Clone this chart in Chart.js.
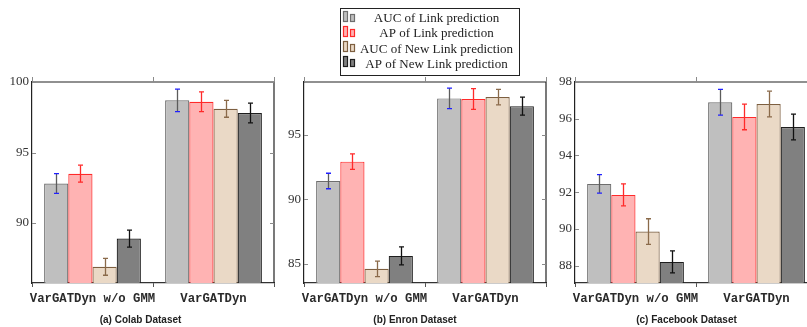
<!DOCTYPE html>
<html>
<head>
<meta charset="utf-8">
<script src="https://cdn.jsdelivr.net/npm/chart.js@4/dist/chart.umd.min.js"></script>
<style>
  html, body { margin: 0; padding: 0; background: #fff; overflow: hidden; width: 807px; height: 327px; }
  canvas { position: absolute; top: 0; }
  #chart-a { left: 0px; }
  #chart-b { left: 272px; }
  #chart-c { left: 543px; }
</style>
</head>
<body>
<canvas id="chart-a" width="277" height="327"></canvas>
<canvas id="chart-b" width="277" height="327"></canvas>
<canvas id="chart-c" width="277" height="327"></canvas>
<script>
const categories = ["VarGATDyn w/o GMM", "VarGATDyn"];
const seriesNames = [
  "AUC of Link prediction",
  "AP of Link prediction",
  "AUC of New Link prediction",
  "AP of New Link prediction"
];

// (a) Colab
const colabAucLink = [92.8, 98.7];
const colabAucLinkErr = [0.7, 0.8];
const colabApLink = [93.5, 98.6];
const colabApLinkErr = [0.6, 0.7];
const colabAucNew = [86.9, 98.1];
const colabAucNewErr = [0.6, 0.6];
const colabApNew = [88.9, 97.8];
const colabApNewErr = [0.6, 0.7];
const colabTicks = [90, 95, 100];

// (b) Enron
const enronAucLink = [91.4, 97.8];
const enronAucLinkErr = [0.6, 0.8];
const enronApLink = [92.9, 97.75];
const enronApLinkErr = [0.6, 0.8];
const enronAucNew = [84.6, 97.9];
const enronAucNewErr = [0.6, 0.6];
const enronApNew = [85.6, 97.2];
const enronApNewErr = [0.7, 0.7];
const enronTicks = [85, 90, 95];

// (c) Facebook
const fbAucLink = [92.45, 96.9];
const fbAucLinkErr = [0.5, 0.7];
const fbApLink = [91.85, 96.1];
const fbApLinkErr = [0.6, 0.7];
const fbAucNew = [89.85, 96.8];
const fbAucNewErr = [0.7, 0.7];
const fbApNew = [88.2, 95.55];
const fbApNewErr = [0.6, 0.7];
const fbTicks = [88, 90, 92, 94, 96, 98];

const styles = [
  { fill: "#bfbfbf", border: "#6e6e6e", stem: "#5c5c5c", cap: "#2020ff" },
  { fill: "#ffb3b3", border: "#ff2a2a", stem: "#ff2a2a", cap: "#ff2a2a" },
  { fill: "#ead9c6", border: "#7d5f40", stem: "#8a6a4a", cap: "#8a6a4a" },
  { fill: "#808080", border: "#1e1e1e", stem: "#111111", cap: "#111111" }
];

const errorBars = {
  id: "errorBars",
  afterDatasetsDraw(chart) {
    const ctx = chart.ctx;
    const y = chart.scales.y;
    chart.data.datasets.forEach((ds, i) => {
      const st = styles[i];
      chart.getDatasetMeta(i).data.forEach((bar, j) => {
        const top = y.getPixelForValue(ds.data[j] + ds.errors[j]);
        const bot = y.getPixelForValue(ds.data[j] - ds.errors[j]);
        const x = Math.round(bar.x) + 0.5;
        ctx.save();
        ctx.lineWidth = 1.3;
        ctx.strokeStyle = st.stem;
        ctx.beginPath();
        ctx.moveTo(x, top);
        ctx.lineTo(x, bot);
        ctx.stroke();
        ctx.strokeStyle = st.cap;
        ctx.beginPath();
        ctx.moveTo(x - 2.5, top); ctx.lineTo(x + 2.5, top);
        ctx.moveTo(x - 2.5, bot); ctx.lineTo(x + 2.5, bot);
        ctx.stroke();
        ctx.restore();
      });
    });
  }
};

const frame = {
  id: "frame",
  afterDraw(chart) {
    const { ctx, chartArea: a, scales: { x, y } } = chart;
    ctx.save();
    ctx.strokeStyle = "#222";
    ctx.lineWidth = 1.2;
    ctx.beginPath();
    ctx.moveTo(a.left, a.top);
    ctx.lineTo(a.right, a.top);
    ctx.lineTo(a.right, a.bottom);
    ctx.stroke();

    ctx.strokeStyle = "#8a8a8a";
    ctx.lineWidth = 1;
    y.ticks.forEach(t => {
      const py = Math.round(y.getPixelForValue(t.value)) + 0.5;
      ctx.beginPath();
      ctx.moveTo(a.left, py); ctx.lineTo(a.left + 4, py);
      ctx.moveTo(a.right, py); ctx.lineTo(a.right - 4, py);
      ctx.stroke();
    });
    for (let i = 0; i <= categories.length; i++) {
      const px = Math.round(x.getPixelForValue(i - 0.5)) + 0.5;
      ctx.beginPath();
      ctx.moveTo(px, a.top);
      ctx.lineTo(px, a.top - 5);
      ctx.stroke();
    }
    ctx.restore();
  }
};

const legendBox = {
  id: "legendBox",
  afterDraw(chart) {
    const ctx = chart.ctx;
    ctx.save();
    ctx.fillStyle = "#fff";
    ctx.fillRect(68.5, 8.5, 179, 67);
    ctx.strokeStyle = "#222";
    ctx.lineWidth = 1;
    ctx.strokeRect(68.5, 8.5, 179, 67);
    ctx.font = "13px 'Liberation Serif'";
    ctx.textAlign = "center";
    ctx.textBaseline = "middle";
    chart.data.datasets.forEach((ds, i) => {
      const cy = 18.5 + i * 15.3;
      const base = Math.round(cy + 2) + 0.5;
      const st = styles[i];
      ctx.fillStyle = st.fill;
      ctx.strokeStyle = st.border;
      ctx.lineWidth = 1.2;
      ctx.fillRect(71.5, base - 10, 4, 10);
      ctx.strokeRect(71.5, base - 10, 4, 10);
      ctx.fillRect(78.5, base - 7, 4, 7);
      ctx.strokeRect(78.5, base - 7, 4, 7);
      ctx.fillStyle = "#222";
      ctx.fillText(ds.label, 164.5, cy);
    });
    ctx.restore();
  }
};

function makePanel(id, title, series, errs, yMin, yMax, tickValues, padLeft, withLegend) {
  const datasets = series.map((data, i) => ({
    label: seriesNames[i],
    data: data,
    errors: errs[i],
    backgroundColor: styles[i].fill,
    borderColor: styles[i].border,
    borderWidth: 1.2,
    borderSkipped: "bottom",
    categoryPercentage: 0.8,
    barPercentage: 1.0
  }));
  const plugins = [errorBars, frame];
  if (withLegend) plugins.push(legendBox);
  return new Chart(document.getElementById(id), {
    type: "bar",
    data: { labels: categories, datasets: datasets },
    plugins: plugins,
    options: {
      responsive: false,
      animation: false,
      devicePixelRatio: 1,
      layout: { padding: { top: 82, left: padLeft, right: 3, bottom: 0 } },
      plugins: {
        legend: { display: false },
        tooltip: { enabled: false },
        title: {
          display: true,
          text: title,
          position: "bottom",
          color: "#222",
          font: { family: "Liberation Sans", size: 10, weight: "bold" },
          padding: { top: 0, bottom: 1 }
        }
      },
      scales: {
        x: {
          offset: true,
          grid: { display: true, drawOnChartArea: false, drawTicks: true, tickLength: 4, offset: true, color: "#555" },
          border: { display: true, color: "#333", width: 1.2 },
          ticks: {
            maxRotation: 0, minRotation: 0, autoSkip: false, padding: 5,
            color: "#2a2a2a",
            font: { family: "Liberation Mono", size: 12.3, weight: "bold" }
          },
          afterFit(scale) { scale.height = 31; }
        },
        y: {
          min: yMin,
          max: yMax,
          grid: { display: false, drawTicks: false },
          border: { display: true, color: "#222", width: 1.2 },
          ticks: {
            padding: 3,
            color: "#333",
            font: { family: "Liberation Serif", size: 13 }
          },
          afterBuildTicks(scale) { scale.ticks = tickValues.map(v => ({ value: v })); },
          afterFit(scale) { scale.width = 32 - padLeft; }
        }
      }
    }
  });
}

makePanel("chart-a", "(a) Colab Dataset",
  [colabAucLink, colabApLink, colabAucNew, colabApNew],
  [colabAucLinkErr, colabApLinkErr, colabAucNewErr, colabApNewErr],
  85.75, 100, colabTicks, 7, false);

makePanel("chart-b", "(b) Enron Dataset",
  [enronAucLink, enronApLink, enronAucNew, enronApNew],
  [enronAucLinkErr, enronApLinkErr, enronAucNewErr, enronApNewErr],
  83.5, 99.07, enronTicks, 12, true);

makePanel("chart-c", "(c) Facebook Dataset",
  [fbAucLink, fbApLink, fbAucNew, fbApNew],
  [fbAucLinkErr, fbApLinkErr, fbAucNewErr, fbApNewErr],
  87.05, 98, fbTicks, 13, false);
</script>
</body>
</html>
